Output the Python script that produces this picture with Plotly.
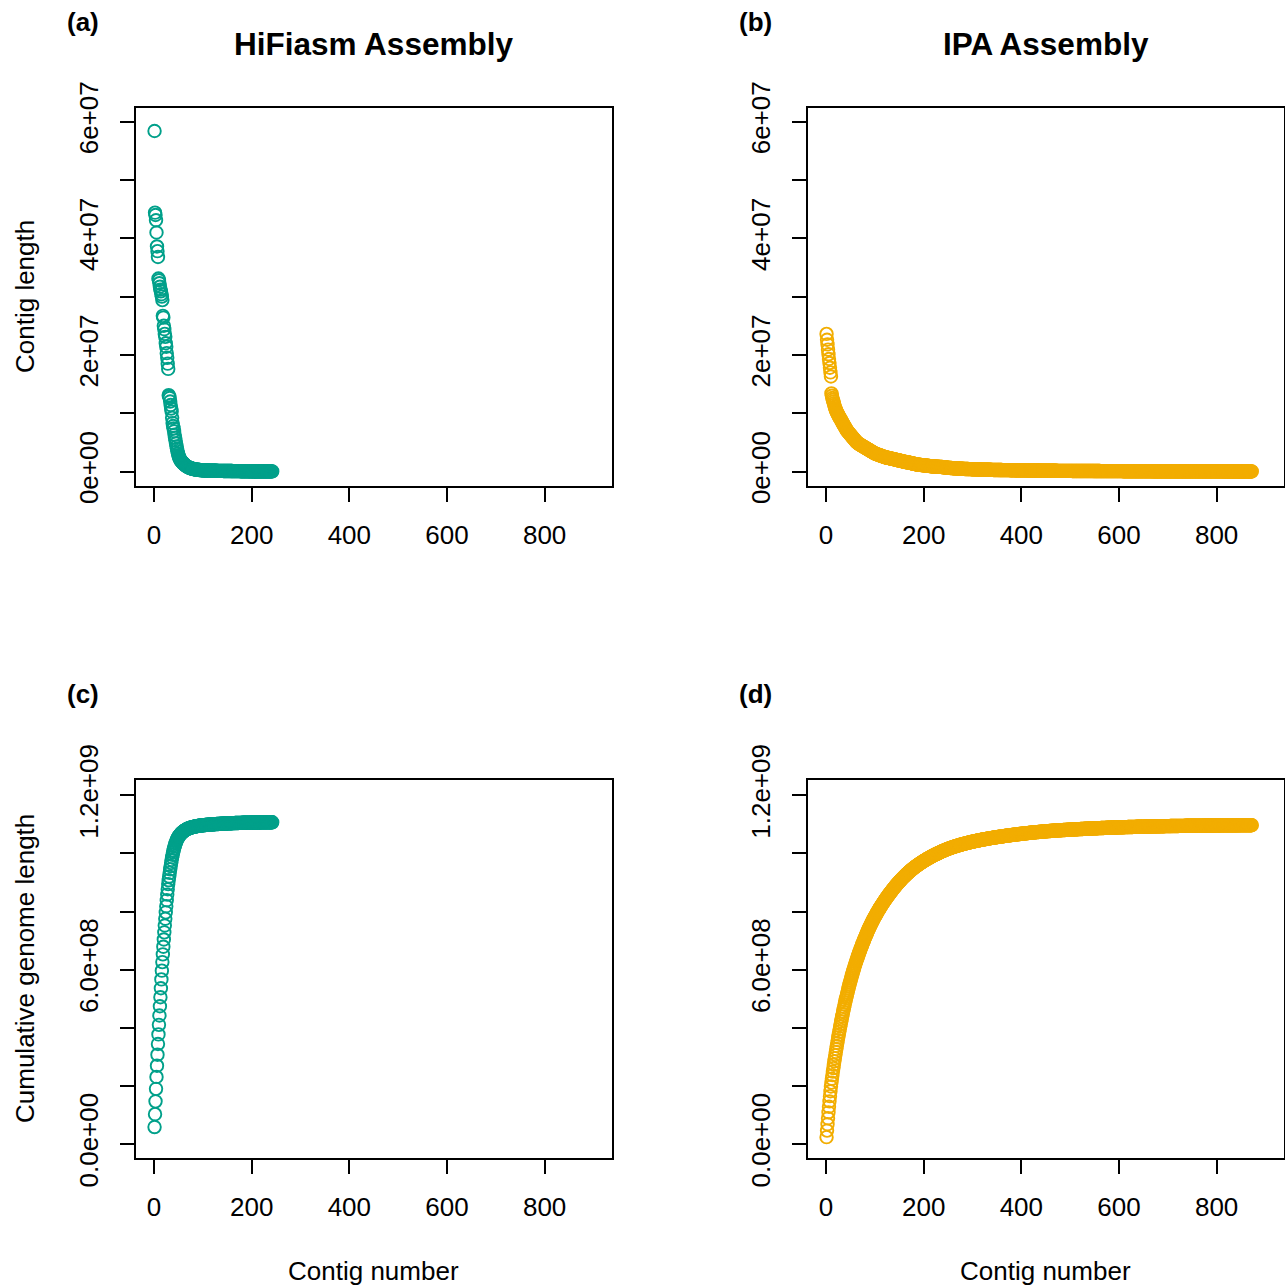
import numpy as np
import plotly.graph_objects as go

# ---------------- data (contig lengths in Mb, sorted) -------------
hifiasm_len_mb = [
    58.4,
    44.4, 44.0, 43.1, 41.0,
    38.6, 37.8, 36.8,
    33.1, 32.8, 32.3, 31.7, 31.2, 30.9, 30.4, 30.0, 29.4,
    26.7, 26.4, 25.0, 24.4, 23.6, 23.1, 22.0, 21.4, 20.3, 19.5, 18.5, 17.6,
    13.1, 12.9, 12.6, 12.0, 11.4, 10.8, 10.3,
    9.2, 8.3, 7.8, 7.4, 6.9, 6.3, 5.8, 5.3, 4.8, 4.3, 3.9, 3.5, 3.1, 2.8,
    2.55, 2.35, 2.15, 2.0, 1.85, 1.75, 1.65, 1.55, 1.45, 1.38,
    1.30, 1.22, 1.14, 1.07, 1.00, 0.94, 0.88, 0.83, 0.78, 0.74,
    0.70, 0.66, 0.62, 0.59, 0.56, 0.53, 0.50, 0.48, 0.46, 0.44,
    0.42, 0.40, 0.38, 0.36, 0.35, 0.33, 0.32, 0.31, 0.30, 0.29,
    0.28, 0.27, 0.26, 0.25, 0.24, 0.23, 0.22, 0.21, 0.21, 0.20,
    0.19, 0.19, 0.18, 0.18, 0.17, 0.17, 0.17, 0.16, 0.16, 0.16,
    0.15, 0.15, 0.15, 0.15, 0.14, 0.14, 0.14, 0.14, 0.13, 0.13,
    0.13, 0.13, 0.13, 0.12, 0.12, 0.12, 0.12, 0.12, 0.11, 0.11,
    0.11, 0.11, 0.11, 0.11, 0.10, 0.10, 0.10, 0.10, 0.10, 0.10,
    0.10, 0.09, 0.09, 0.09, 0.09, 0.09, 0.09, 0.09, 0.09, 0.09,
    0.088, 0.086, 0.085, 0.083, 0.082, 0.080, 0.079, 0.077, 0.076, 0.075,
    0.073, 0.072, 0.071, 0.069, 0.068, 0.067, 0.066, 0.065, 0.063, 0.062,
    0.061, 0.060, 0.059, 0.058, 0.057, 0.056, 0.055, 0.054, 0.053, 0.052,
    0.051, 0.050, 0.049, 0.048, 0.047, 0.046, 0.045, 0.045, 0.044, 0.043,
    0.042, 0.041, 0.040, 0.040, 0.039, 0.038, 0.037, 0.037, 0.036, 0.035,
    0.034, 0.034, 0.033, 0.032, 0.032, 0.031, 0.030, 0.030, 0.029, 0.029,
    0.028, 0.027, 0.027, 0.026, 0.026, 0.025, 0.025, 0.024, 0.024, 0.023,
    0.023, 0.022, 0.022, 0.021, 0.021, 0.020, 0.020, 0.019, 0.019, 0.019,
    0.018, 0.018, 0.018, 0.017, 0.017, 0.017, 0.016, 0.016, 0.016, 0.015,
    0.015, 0.015,
]

ipa_len_mb = [
    23.6, 22.6, 21.8, 20.9, 20.1, 19.3, 18.6, 17.8, 17.0, 16.3,
    13.4, 13.0, 12.6, 12.3, 12.0, 11.7, 11.4, 11.1,
    10.8, 10.6, 10.4, 10.2, 10.0, 9.9, 9.7, 9.5, 9.4, 9.2, 9.1, 8.9, 8.8,
    8.6, 8.5, 8.3, 8.2, 8.0, 7.9, 7.7, 7.6, 7.4, 7.3, 7.2, 7.0, 6.9, 6.8,
    6.7, 6.6, 6.5, 6.4, 6.3, 6.2, 6.1, 6.0, 5.9, 5.8,
    5.7, 5.6, 5.5, 5.4, 5.3, 5.2, 5.1, 5.0, 4.95, 4.9, 4.8,
    4.74, 4.69, 4.64, 4.59, 4.54, 4.49, 4.44, 4.39, 4.34, 4.29,
    4.24, 4.19, 4.14, 4.09, 4.04, 3.99, 3.94, 3.89, 3.84, 3.79,
    3.74, 3.69, 3.64, 3.59, 3.54, 3.49, 3.44, 3.39, 3.34, 3.29,
    3.24, 3.19, 3.14, 3.10,
    3.05, 3.02, 2.99, 2.96, 2.93, 2.90, 2.87, 2.84, 2.81, 2.78,
    2.75, 2.72, 2.69, 2.66, 2.63, 2.60, 2.57, 2.54, 2.51, 2.48,
    2.45, 2.43, 2.41, 2.39, 2.37, 2.35, 2.33, 2.31, 2.29, 2.27,
    2.25, 2.23, 2.21, 2.20,
    2.18, 2.16, 2.14, 2.12, 2.10, 2.08, 2.06, 2.04, 2.02, 2.00,
    1.98, 1.96, 1.94, 1.92, 1.90, 1.88, 1.86, 1.84, 1.82, 1.80,
    1.78, 1.76, 1.74, 1.72, 1.70, 1.68, 1.66, 1.64, 1.62, 1.60,
    1.59, 1.58, 1.57, 1.56,
    1.54, 1.52, 1.50, 1.48, 1.46, 1.44, 1.42, 1.40, 1.38, 1.36,
    1.34, 1.32, 1.30, 1.28, 1.26, 1.24, 1.22, 1.20, 1.19, 1.18,
    1.17, 1.16, 1.15, 1.14, 1.13, 1.12, 1.11, 1.10, 1.09, 1.08,
    1.07, 1.06, 1.05, 1.04, 1.03, 1.02, 1.01, 1.00, 0.99, 0.98,
    0.97, 0.96, 0.95, 0.94, 0.93, 0.92, 0.91, 0.90, 0.89, 0.88,
    0.87, 0.86, 0.85, 0.85, 0.84, 0.84, 0.83, 0.83, 0.82, 0.82,
    0.81, 0.81, 0.80, 0.80, 0.80, 0.79, 0.79, 0.78,
    0.77, 0.76, 0.75, 0.74, 0.73, 0.72, 0.71, 0.70, 0.69, 0.68,
    0.67, 0.66, 0.65, 0.64, 0.63, 0.63, 0.62, 0.61, 0.60, 0.60,
    0.59, 0.58, 0.58, 0.57, 0.56, 0.56, 0.55, 0.54, 0.54, 0.53,
    0.53, 0.52, 0.51, 0.51, 0.50, 0.50, 0.49, 0.49, 0.48, 0.48,
    0.47, 0.47, 0.46, 0.46, 0.45, 0.45, 0.45, 0.44, 0.44, 0.43,
    0.43, 0.43, 0.42, 0.42, 0.42, 0.41, 0.41, 0.41, 0.40, 0.40,
    0.40, 0.39, 0.39, 0.39, 0.38, 0.38, 0.38, 0.37, 0.37,
    0.37, 0.36, 0.36, 0.36, 0.35, 0.35, 0.35, 0.34, 0.34, 0.34,
    0.33, 0.33, 0.33, 0.33, 0.32, 0.32, 0.32, 0.32, 0.31, 0.31,
    0.31, 0.31, 0.30, 0.30, 0.30, 0.30, 0.30, 0.29, 0.29, 0.29,
    0.29, 0.29, 0.28, 0.28, 0.28, 0.28, 0.28, 0.27, 0.27, 0.27,
    0.27, 0.27, 0.27, 0.26, 0.26, 0.26, 0.26, 0.26, 0.26, 0.25,
    0.25, 0.25, 0.25, 0.25, 0.25, 0.24, 0.24, 0.24, 0.24, 0.24,
    0.24,
    0.239, 0.238, 0.237, 0.236, 0.234, 0.233, 0.232, 0.231, 0.230, 0.229,
    0.227, 0.226, 0.225, 0.224, 0.223, 0.222, 0.220, 0.219, 0.218, 0.217,
    0.216, 0.215, 0.213, 0.212, 0.211, 0.210, 0.209, 0.208, 0.206, 0.205,
    0.204, 0.203, 0.202, 0.201, 0.199, 0.198, 0.197, 0.196, 0.195, 0.194,
    0.192, 0.191, 0.190, 0.189, 0.188, 0.187, 0.185, 0.184, 0.183, 0.182,
    0.181, 0.180, 0.178, 0.177, 0.176, 0.175, 0.174, 0.173, 0.171, 0.170,
    0.169, 0.168, 0.167, 0.166, 0.164, 0.163, 0.162, 0.161, 0.160, 0.159,
    0.157, 0.156, 0.155, 0.154, 0.153, 0.152, 0.150, 0.149, 0.148, 0.147,
    0.146, 0.145, 0.143, 0.142, 0.141, 0.140, 0.139, 0.138, 0.136, 0.135,
    0.134, 0.133, 0.132, 0.131, 0.129, 0.128, 0.127, 0.126, 0.125, 0.124,
    0.122, 0.121, 0.120, 0.119, 0.118, 0.117, 0.115, 0.114, 0.113, 0.112,
    0.111, 0.110, 0.110, 0.109,
    0.108, 0.108, 0.107, 0.107, 0.106, 0.106, 0.106, 0.105, 0.105, 0.104,
    0.104, 0.103, 0.103, 0.103, 0.102, 0.102, 0.101, 0.101, 0.100, 0.100,
    0.100, 0.099, 0.099, 0.098, 0.098, 0.097, 0.097, 0.097, 0.096, 0.096,
    0.095, 0.095, 0.094, 0.094, 0.094, 0.093, 0.093, 0.092, 0.092, 0.091,
    0.091, 0.091, 0.090, 0.090, 0.089, 0.089, 0.088, 0.088, 0.088, 0.087,
    0.087, 0.086, 0.086, 0.085, 0.085, 0.085, 0.084, 0.084, 0.083, 0.083,
    0.082, 0.082, 0.082, 0.081, 0.081, 0.080, 0.080, 0.079, 0.079, 0.079,
    0.078, 0.078, 0.077, 0.077, 0.076, 0.076, 0.076, 0.075, 0.075, 0.074,
    0.074, 0.073, 0.073, 0.073, 0.072, 0.072, 0.071, 0.071, 0.070, 0.070,
    0.070, 0.069, 0.069, 0.068, 0.068, 0.067, 0.067, 0.067, 0.066, 0.066,
    0.065, 0.065, 0.064, 0.064, 0.064, 0.063, 0.063, 0.062, 0.062, 0.061,
    0.061, 0.061, 0.060, 0.060, 0.060, 0.059, 0.059, 0.059, 0.058, 0.058,
    0.058, 0.057, 0.057, 0.057, 0.056, 0.056, 0.056, 0.055, 0.055, 0.055,
    0.054, 0.054, 0.054, 0.053, 0.053, 0.053, 0.052, 0.052, 0.052, 0.051,
    0.051, 0.051, 0.050, 0.050, 0.050, 0.049, 0.049, 0.049, 0.048, 0.048,
    0.048, 0.047, 0.047, 0.047, 0.046, 0.046, 0.046, 0.046, 0.045, 0.045,
    0.045, 0.044, 0.044, 0.044, 0.044, 0.043, 0.043, 0.043, 0.042, 0.042,
    0.042, 0.042, 0.041, 0.041, 0.041, 0.041, 0.040, 0.040, 0.040, 0.040,
    0.039, 0.039, 0.039, 0.039, 0.038, 0.038, 0.038, 0.038, 0.037, 0.037,
    0.037, 0.037, 0.037, 0.036, 0.036, 0.036, 0.036, 0.035, 0.035, 0.035,
    0.035, 0.035, 0.034, 0.034, 0.034, 0.034, 0.034, 0.033, 0.033, 0.033,
    0.033, 0.033, 0.032, 0.032, 0.032, 0.032, 0.032, 0.031, 0.031, 0.031,
    0.031, 0.031, 0.030, 0.030, 0.030, 0.030, 0.030, 0.030, 0.029, 0.029,
    0.029, 0.029, 0.029, 0.029, 0.028, 0.028, 0.028, 0.028, 0.028, 0.028,
    0.027, 0.027, 0.027, 0.027, 0.027, 0.027, 0.026, 0.026, 0.026, 0.026,
    0.026, 0.026, 0.025, 0.025, 0.025, 0.025, 0.025, 0.025, 0.024, 0.024,
    0.024, 0.024, 0.024, 0.024, 0.023, 0.023, 0.023, 0.023, 0.023, 0.023,
    0.022, 0.022, 0.022, 0.022, 0.022, 0.022, 0.021, 0.021, 0.021, 0.021,
    0.021, 0.021, 0.020, 0.020, 0.020, 0.020, 0.020, 0.020, 0.020, 0.019,
    0.019, 0.019, 0.019, 0.019, 0.019, 0.019, 0.018, 0.018, 0.018, 0.018,
    0.018, 0.018, 0.018, 0.017, 0.017, 0.017, 0.017, 0.017, 0.017, 0.017,
    0.016, 0.016, 0.016, 0.016, 0.016, 0.016, 0.016, 0.016, 0.015, 0.015,
    0.015, 0.015, 0.015, 0.015, 0.015, 0.015, 0.014, 0.014, 0.014, 0.014,
    0.014, 0.014, 0.014, 0.014, 0.014, 0.013, 0.013, 0.013, 0.013, 0.013,
    0.013, 0.013, 0.013, 0.013, 0.012, 0.012, 0.012, 0.012, 0.012, 0.012,
    0.012, 0.012, 0.012, 0.012, 0.011, 0.011, 0.011, 0.011, 0.011, 0.011,
    0.011, 0.011, 0.011, 0.011, 0.011, 0.010, 0.010, 0.010, 0.010, 0.010,
    0.010, 0.010, 0.010, 0.010, 0.010, 0.010, 0.009, 0.009, 0.009, 0.009,
    0.009, 0.009, 0.009, 0.009, 0.009, 0.009, 0.009, 0.008, 0.008, 0.008,
    0.008, 0.008,
]

x_ticks = [0, 200, 400, 600, 800]
x_ticklabels = ["0", "200", "400", "600", "800"]
len_ticks = [0, 1e7, 2e7, 3e7, 4e7, 5e7, 6e7]
len_ticklabels = ["0e+00", "", "2e+07", "", "4e+07", "", "6e+07"]
cum_ticks = [0, 2e8, 4e8, 6e8, 8e8, 1e9, 1.2e9]
cum_ticklabels = ["0.0e+00", "", "", "6.0e+08", "", "", "1.2e+09"]

assembly_names = ["HiFiasm Assembly", "IPA Assembly"]
panel_tags = ["(a)", "(b)", "(c)", "(d)"]
y_titles = ["Contig length", "Cumulative genome length"]
x_title = "Contig number"
colors = ["#00A08A", "#F2AD00"]

# ---------------- derived series ----------------
hif_len = np.array(hifiasm_len_mb) * 1e6
ipa_len = np.array(ipa_len_mb) * 1e6
hif_idx = np.arange(1, len(hif_len) + 1)
ipa_idx = np.arange(1, len(ipa_len) + 1)
series = [
    (hif_idx, hif_len, colors[0]),
    (ipa_idx, ipa_len, colors[1]),
    (hif_idx, np.cumsum(hif_len), colors[0]),
    (ipa_idx, np.cumsum(ipa_len), colors[1]),
]

# ---------------- layout geometry (pixels) ----------------
W, H = 1285, 1288
FONT = "Liberation Sans, Arial, Helvetica, sans-serif"
boxes = [  # left, right, top, bottom
    (136, 611.5, 107.5, 486),
    (808, 1283.5, 107.5, 486),
    (136, 611.5, 779.5, 1158),
    (808, 1283.5, 779.5, 1158),
]
x_range = [-37, 937]
len_range = [-0.2487e7, 6.2436e7]
cum_range = [-0.0481e9, 1.2543e9]


def fx(p):
    return p / W


def fy(p):
    return 1 - p / H


fig = go.Figure()
for i, (xs, ys, col) in enumerate(series):
    ax = "" if i == 0 else str(i + 1)
    fig.add_trace(go.Scatter(
        x=xs, y=ys, mode="markers", xaxis="x" + ax, yaxis="y" + ax,
        marker=dict(symbol="circle-open", size=12.5, color=col,
                    line=dict(width=1.9, color=col)),
        showlegend=False, hoverinfo="skip",
    ))

axis_common = dict(
    showline=True, mirror=True, linecolor="black", linewidth=1.5,
    ticks="outside", ticklen=14, tickwidth=1.5, tickcolor="black",
    showgrid=False, zeroline=False, automargin=False,
    tickfont=dict(family=FONT, size=26, color="black"),
)
layout = {}
for i, (l, r, t, b) in enumerate(boxes):
    n = "" if i == 0 else str(i + 1)
    layout["xaxis" + n] = dict(
        axis_common, domain=[fx(l), fx(r)], range=x_range,
        anchor="y" + n, tickmode="array", tickvals=x_ticks,
        ticktext=x_ticklabels, ticklabelstandoff=11,
    )
    is_len = i < 2
    layout["yaxis" + n] = dict(
        axis_common, domain=[fy(b), fy(t)],
        range=len_range if is_len else cum_range,
        anchor="x" + n, tickmode="array",
        tickvals=len_ticks if is_len else cum_ticks,
        ticktext=len_ticklabels if is_len else cum_ticklabels,
        tickangle=-90, ticklabelstandoff=12,
    )

annotations = []
tag_pos = [(83, 22), (755, 22), (83, 694), (755, 694)]
for tag, (px, py) in zip(panel_tags, tag_pos):
    annotations.append(dict(text="<b>" + tag + "</b>", x=fx(px), y=fy(py),
                            xref="paper", yref="paper", showarrow=False,
                            xanchor="center", yanchor="middle",
                            font=dict(family=FONT, size=26, color="black")))
for name, cx in zip(assembly_names, [373.75, 1045.75]):
    annotations.append(dict(text="<b>" + name + "</b>", x=fx(cx), y=fy(44),
                            xref="paper", yref="paper", showarrow=False,
                            xanchor="center", yanchor="middle",
                            font=dict(family=FONT, size=31.5, color="black")))
for title, cy in zip(y_titles, [297, 969]):
    annotations.append(dict(text=title, x=fx(25), y=fy(cy), textangle=-90,
                            xref="paper", yref="paper", showarrow=False,
                            xanchor="center", yanchor="middle",
                            font=dict(family=FONT, size=26, color="black")))
for cx in [373.75, 1045.75]:
    annotations.append(dict(text=x_title, x=fx(cx), y=fy(1271),
                            xref="paper", yref="paper", showarrow=False,
                            xanchor="center", yanchor="middle",
                            font=dict(family=FONT, size=26, color="black")))

fig.update_layout(
    template="none",
    width=W, height=H, margin=dict(l=0, r=0, t=0, b=0, pad=0, autoexpand=False),
    paper_bgcolor="white", plot_bgcolor="white",
    annotations=annotations, **layout,
)

fig.write_html(
    "out.html",
    config={"displayModeBar": False},
    post_script="document.body.style.margin='0';document.body.style.overflow='hidden';",
)
